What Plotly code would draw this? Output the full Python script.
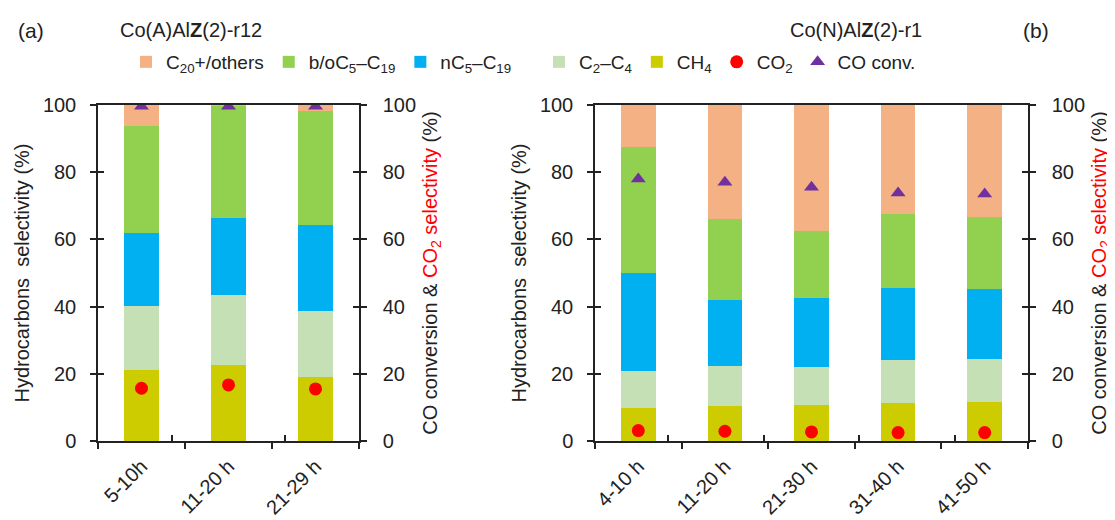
import plotly.graph_objects as go

# ---------------- data ----------------
cats_a = ["5-10h", "11-20 h", "21-29 h"]
cats_b = ["4-10 h", "11-20 h", "21-30 h", "31-40 h", "41-50 h"]

series_names = ["CH<sub>4</sub>", "C<sub>2</sub>–C<sub>4</sub>", "nC<sub>5</sub>–C<sub>19</sub>",
                "b/oC<sub>5</sub>–C<sub>19</sub>", "C<sub>20</sub>+/others"]
series_colors = ["#CCCC00", "#C5E0B4", "#00B0F0", "#92D050", "#F4B183"]

ch4_a = [21.2, 22.5, 19.0]
c2c4_a = [19.1, 20.9, 19.8]
nc5_a = [21.5, 22.9, 25.5]
boc5_a = [32.0, 33.5, 33.9]
c20_a = [6.2, 0.2, 1.8]
co2_a = [15.7, 16.7, 15.5]
conv_a = [99.6, 99.6, 99.6]

ch4_b = [9.7, 10.4, 10.8, 11.4, 11.6]
c2c4_b = [11.0, 11.8, 11.2, 12.8, 12.7]
nc5_b = [29.4, 19.8, 20.5, 21.2, 21.0]
boc5_b = [37.3, 24.2, 20.1, 22.1, 21.5]
c20_b = [12.6, 33.8, 37.4, 32.5, 33.2]
co2_b = [3.1, 2.9, 2.7, 2.5, 2.5]
conv_b = [78.0, 77.0, 75.5, 73.8, 73.5]

yticks = [0, 20, 40, 60, 80, 100]

# ---------------- figure ----------------
OFF = 8                      # page body margin
W, H = 1115 - OFF, 520 - OFF
FONT = "Arial, Liberation Sans, sans-serif"
AX = "#222222"

fig = go.Figure()

panels = [
    (cats_a, [ch4_a, c2c4_a, nc5_a, boc5_a, c20_a], co2_a, conv_a, "x", "y", "y2", True),
    (cats_b, [ch4_b, c2c4_b, nc5_b, boc5_b, c20_b], co2_b, conv_b, "x2", "y3", "y4", False),
]
ranks = [5, 4, 3, 2, 1]
legs = ["legend2", "legend2", "legend", "legend", "legend"]
for cats, segs, co2, conv, xa, ya, ya2, show in panels:
    for i, vals in enumerate(segs):
        fig.add_trace(go.Bar(x=cats, y=vals, name=series_names[i], marker_color=series_colors[i],
                             marker_line_width=0, xaxis=xa, yaxis=ya, width=0.4,
                             showlegend=show, legendrank=ranks[i], legend=legs[i]))
    fig.add_trace(go.Scatter(x=cats, y=co2, name="CO<sub>2</sub>", mode="markers",
                             marker=dict(symbol="circle", size=13, color="#FF0000"),
                             xaxis=xa, yaxis=ya2, showlegend=show, legendrank=6, legend="legend2"))
    fig.add_trace(go.Scatter(x=cats, y=conv, name="CO conv.", mode="markers",
                             marker=dict(symbol="triangle-up", size=13, color="#7030A0"),
                             xaxis=xa, yaxis=ya2, showlegend=show, legendrank=7, legend="legend2"))

# invisible traces so the inside-tick overlay axes get drawn
for cats, xa, yas in [(cats_a, "x3", ["y5", "y6"]), (cats_b, "x4", ["y7", "y8"])]:
    for ya in yas:
        fig.add_trace(go.Scatter(x=cats, y=[None] * len(cats), xaxis=xa, yaxis=ya,
                                 showlegend=False, hoverinfo="skip", mode="markers"))

def px_x(p):
    return (p - OFF) / W

def px_y(p):
    return 1 - (p - OFF) / H

dom_a = [px_x(98), px_x(359)]
dom_b = [px_x(595), px_x(1028)]
dom_y = [px_y(441), px_y(105)]

tickfont = dict(family=FONT, size=20, color="#222")
titlefont = dict(family=FONT, size=20, color="#222")

def xax(dom, anchor, overlay=None, inside=False):
    d = dict(domain=dom, anchor=anchor, type="category", showgrid=False, zeroline=False,
             showline=not inside, linecolor=AX, linewidth=1.5, mirror=not inside,
             ticks="inside" if inside else "outside", tickson="boundaries", ticklen=6,
             tickwidth=1.5, tickcolor=AX, tickangle=-45, tickfont=tickfont,
             showticklabels=not inside, automargin=False, ticklabelstandoff=4)
    if overlay:
        d["overlaying"] = overlay
    return d

def yax(dom, anchor, side, overlay=None, inside=False, title=None, standoff=8, lstand=8):
    d = dict(domain=dom, anchor=anchor, side=side, range=[0, 100], tickvals=yticks,
             showgrid=False, zeroline=False, showline=not inside, linecolor=AX, linewidth=1.5,
             ticks="inside" if inside else "outside", ticklen=6, tickwidth=1.5, tickcolor=AX,
             tickfont=tickfont, showticklabels=not inside, automargin=False,
             ticklabelstandoff=lstand)
    if overlay:
        d["overlaying"] = overlay
    if title:
        d["title"] = dict(text=title, font=titlefont, standoff=standoff)
    return d

ytitle_l = "Hydrocarbons  selectivity (%)"
ytitle_r = "CO conversion & <span style='color:#FF0000'>CO<sub>2</sub> selectivity</span> (%)"

legfont = dict(family=FONT, size=19, color="#222")
fig.update_layout(
    width=W, height=H,
    margin=dict(l=0, r=0, t=0, b=0, autoexpand=False),
    paper_bgcolor="white", plot_bgcolor="white",
    barmode="stack",
    font=dict(family=FONT, size=19, color="#222"),
    xaxis=xax(dom_a, "y"),
    yaxis=yax(dom_y, "x", "left", title=ytitle_l, lstand=10),
    yaxis2=yax(dom_y, "x", "right", overlay="y", title=ytitle_r, lstand=12),
    xaxis2=xax(dom_b, "y3"),
    yaxis3=yax(dom_y, "x2", "left", title=ytitle_l, lstand=10),
    yaxis4=yax(dom_y, "x2", "right", overlay="y3", title=ytitle_r, lstand=12),
    xaxis3=xax(dom_a, "y", overlay="x", inside=True),
    xaxis4=xax(dom_b, "y3", overlay="x2", inside=True),
    yaxis5=yax(dom_y, "x3", "left", overlay="y", inside=True),
    yaxis6=yax(dom_y, "x3", "right", overlay="y", inside=True),
    yaxis7=yax(dom_y, "x4", "left", overlay="y3", inside=True),
    yaxis8=yax(dom_y, "x4", "right", overlay="y3", inside=True),
    legend=dict(orientation="h", x=px_x(126), y=px_y(62), xanchor="left", yanchor="middle",
                font=legfont, bgcolor="rgba(0,0,0,0)", itemwidth=30, tracegroupgap=0,
                traceorder="normal"),
    legend2=dict(orientation="h", x=px_x(539), y=px_y(62), xanchor="left", yanchor="middle",
                 font=legfont, bgcolor="rgba(0,0,0,0)", itemwidth=30, tracegroupgap=0,
                 traceorder="normal"),
    showlegend=True,
)

for txt, xp, size in [("(a)", 31, 21), ("(b)", 1036, 21),
                      ("Co(A)Al<b>Z</b>(2)-r12", 191, 20), ("Co(N)Al<b>Z</b>(2)-r1", 856, 20)]:
    fig.add_annotation(text=txt, x=px_x(xp), y=px_y(30), xref="paper", yref="paper",
                       xanchor="center", yanchor="middle", showarrow=False,
                       font=dict(family=FONT, size=size, color="#222"))

fig.write_html("out.html")
